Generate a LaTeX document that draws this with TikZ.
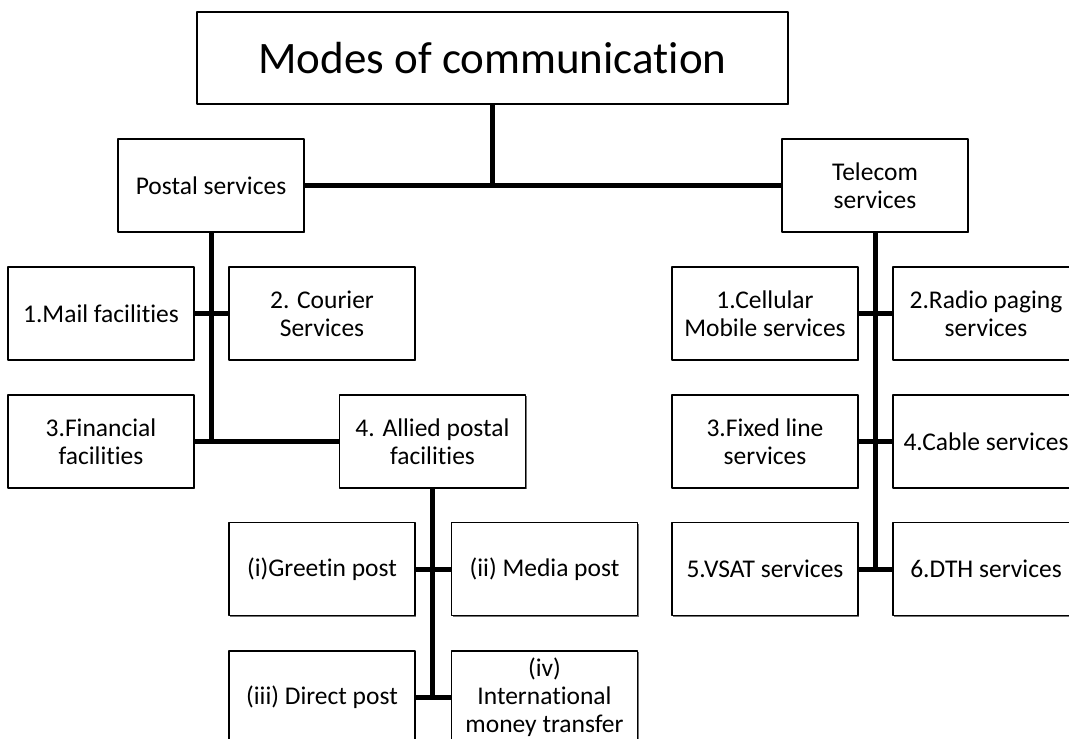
\documentclass[tikz,border=0pt]{standalone}
\usepackage{fontspec}
\setmainfont{Carlito}[Ligatures={NoCommon}]
\usetikzlibrary{shadows}
\begin{document}
\begin{tikzpicture}[x=1pt,y=-1pt,line join=round,
	unitbox/.style={draw,line width=1.4pt,fill=white,minimum width=186pt,minimum height=93pt,inner sep=0pt,align=center,
		font=\fontsize{25.5}{28}\selectfont,drop shadow={shadow xshift=1.2pt,shadow yshift=-1.2pt,fill=black!55,opacity=1}},
	link/.style={line width=5pt}]
	\useasboundingbox(0,0)rectangle(1069,739);
	\clip(0,0)rectangle(1069,739);
	\node[unitbox,minimum width=591pt,minimum height=92pt,font=\fontsize{45}{50}\selectfont](title)at(492.5,58){Modes of communication};
	\node[unitbox](postal)at(211,185.5){Postal services};
	\node[unitbox](telecom)at(875,185.5){Telecom\\services};
	% postal side
	\node[unitbox](mail)at(101,313.5){1.Mail facilities};
	\node[unitbox](courier)at(322,313.5){2. Courier\\Services};
	\node[unitbox](financial)at(101,441.5){3.Financial\\facilities};
	\node[unitbox](allied)at(432.5,441.5){4. Allied postal\\facilities};
	\node[unitbox](greetin)at(322,569){(i)Greetin post};
	\node[unitbox](media)at(544.5,569){(ii) Media post};
	\node[unitbox](direct)at(322,697.5){(iii) Direct post};
	\node[unitbox](intl)at(544.5,697.5){(iv)\\International\\money transfer};
	% telecom side
	\node[unitbox](cellular)at(765,313.5){1.Cellular\\Mobile services};
	\node[unitbox](radio)at(986,313.5){2.Radio paging\\services};
	\node[unitbox](fixed)at(765,441.5){3.Fixed line\\services};
	\node[unitbox](cable)at(986,441.5){4.Cable services};
	\node[unitbox](vsat)at(765,569){5.VSAT services};
	\node[unitbox](dth)at(986,569){6.DTH services};
	\draw[link](title.south)--(title.south|-postal.east);
	\draw[link](postal.east)--(telecom.west);
	\draw[link](postal.south)--(postal.south|-allied.west);
	\draw[link](allied.south)--(allied.south|-intl.west);
	\draw[link](telecom.south)--(telecom.south|-dth.west);
	\foreach \a/\b in {mail/courier,financial/allied,greetin/media,direct/intl,cellular/radio,fixed/cable,vsat/dth}
		\draw[link](\a.east)--(\b.west);
\end{tikzpicture}
\end{document}
